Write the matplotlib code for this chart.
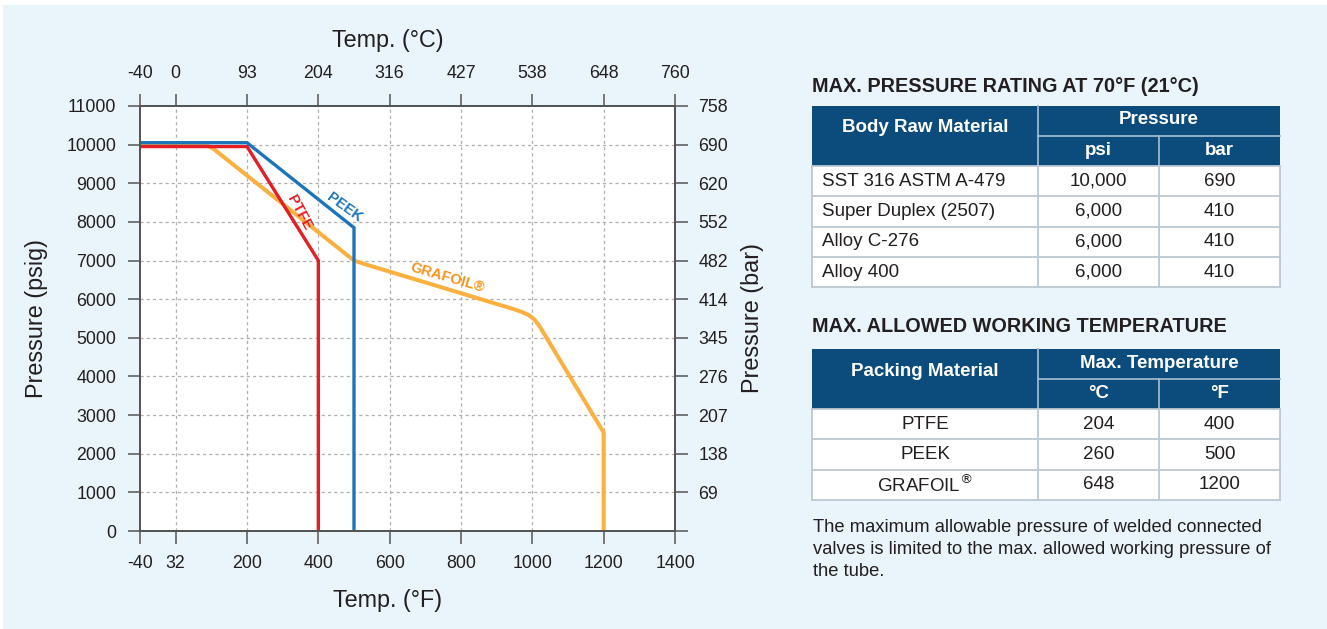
import numpy as np
import matplotlib
matplotlib.use('Agg')
import matplotlib.pyplot as plt
from matplotlib.patches import Rectangle
from matplotlib.lines import Line2D

W, H = 1327, 629
plt.rcParams['font.family'] = ['Liberation Sans', 'DejaVu Sans']

# ---------------- data ----------------
ptfe_f = [-40, 200, 400, 400]
ptfe_p = [9950, 9950, 7000, 0]
peek_f = [-40, 200, 500, 500]
peek_p = [10050, 10050, 7850, 0]
graf_f = [-40, 94, 108, 120, 160, 500, 540, 947, 970, 990, 1005, 1018, 1032, 1200, 1200]
graf_p = [10000, 10000, 9965, 9900, 9550, 7000, 6880, 5745, 5670, 5590, 5480, 5330, 5120, 2550, 0]

xticks_f = [-40, 32, 200, 400, 600, 800, 1000, 1200, 1400]
xlabels_c = ['-40', '0', '93', '204', '316', '427', '538', '648', '760']
yticks_psi = list(range(0, 11001, 1000))
ylabels_bar = ['', '69', '138', '207', '276', '345', '414', '482', '552', '620', '690', '758']

t1_cols = ['Body Raw Material', 'Pressure', 'psi', 'bar']
t1_rows = ['SST 316 ASTM A-479', 'Super Duplex (2507)', 'Alloy C-276', 'Alloy 400']
t1_psi = ['10,000', '6,000', '6,000', '6,000']
t1_bar = ['690', '410', '410', '410']

t2_cols = ['Packing Material', 'Max. Temperature', '°C', '°F']
t2_rows = ['PTFE', 'PEEK', 'GRAFOIL$^{\\circledR}$']
t2_c = ['204', '260', '648']
t2_f = ['400', '500', '1200']

note = ['The maximum allowable pressure of welded connected',
        'valves is limited to the max. allowed working pressure of',
        'the tube.']

# ---------------- style ----------------
RED = '#E31E25'
BLUE = '#1B75BB'
ORANGE = '#FBB040'
ORANGE_T = '#F7941D'
PANEL = '#E9F4FB'
DARK = '#0B4C7D'
TXT = '#231F20'
AXC = '#555555'

def fx(x):
    return x / W

def fy(y):
    return 1 - y / H

fig = plt.figure(figsize=(W / 100, H / 100), dpi=100, facecolor='white')
fig.add_artist(Rectangle((fx(3), 0), fx(W - 3), fy(5), transform=fig.transFigure,
                         facecolor=PANEL, edgecolor='none', zorder=-10))

# piecewise scale used by the original chart
xs_src = [-40, 32, 200, 1400]
xs_dst = [0, 0.5, 1.5, 7.5]

def fwd(x):
    return np.interp(x, xs_src, xs_dst)

def inv(x):
    return np.interp(x, xs_dst, xs_src)

ax = fig.add_axes([fx(140), fy(531), fx(675 - 140), (531 - 106) / H])
ax.set_facecolor('white')
ax.set_xscale('function', functions=(fwd, inv))
ax.set_xlim(-40, 1400)
ax.set_ylim(0, 11000)

ax.plot(ptfe_f, ptfe_p, color=RED, lw=2.4, solid_joinstyle='miter', zorder=3)
ax.plot(peek_f, peek_p, color=BLUE, lw=2.4, solid_joinstyle='miter', zorder=4)
ax.plot(graf_f, graf_p, color=ORANGE, lw=2.9, solid_joinstyle='round', zorder=2)

ax.text(346, 8230, 'PTFE', color=RED, fontsize=10.5, fontweight='bold', rotation=-62,
        ha='center', va='center', rotation_mode='anchor', zorder=5)
ax.text(472, 8385, 'PEEK', color=BLUE, fontsize=10.5, fontweight='bold', rotation=-36,
        ha='center', va='center', rotation_mode='anchor', zorder=5)
ax.text(763, 6573, 'GRAFOIL®', color=ORANGE_T, fontsize=10.5, fontweight='bold', rotation=-16,
        ha='center', va='center', rotation_mode='anchor', zorder=5)

ax.set_xticks(xticks_f)
ax.set_xticklabels([str(v) for v in xticks_f])
ax.set_yticks(yticks_psi)
ax.set_yticklabels([str(v) for v in yticks_psi])
ax.minorticks_off()
for v in xticks_f[1:-1]:
    ax.axvline(v, color='#AFAFAF', lw=0.9, ls=(0, (2.5, 2.5)), zorder=1)
for v in yticks_psi[1:-1]:
    ax.axhline(v, color='#AFAFAF', lw=0.9, ls=(0, (2.5, 2.5)), zorder=1)

tick_kw = dict(direction='out', length=9, width=1.1, color=AXC, labelcolor=TXT,
               labelsize=12.8, pad=8)
ax.tick_params(axis='both', **tick_kw)
for s in ax.spines.values():
    s.set_color(AXC)
    s.set_linewidth(1.3)

axt = ax.twiny()
axt.set_xscale('function', functions=(fwd, inv))
axt.set_xlim(-40, 1400)
axt.set_xticks(xticks_f)
axt.set_xticklabels(xlabels_c)
axt.minorticks_off()
axt.tick_params(axis='x', **tick_kw)

axr = ax.twinx()
axr.set_ylim(0, 11000)
axr.set_yticks(yticks_psi)
axr.set_yticklabels(ylabels_bar)
axr.tick_params(axis='y', **tick_kw)
for a in (axt, axr):
    for s in a.spines.values():
        s.set_color(AXC)
        s.set_linewidth(1.3)

fig.text(fx(388), fy(40), 'Temp. (°C)', fontsize=16.8, color=TXT, ha='center', va='center')
fig.text(fx(388), fy(600), 'Temp. (°F)', fontsize=16.8, color=TXT, ha='center', va='center')
fig.text(fx(37), fy(318), 'Pressure (psig)', fontsize=16.8, color=TXT, ha='center', va='center', rotation=90)
fig.text(fx(752), fy(318), 'Pressure (bar)', fontsize=16.8, color=TXT, ha='center', va='center', rotation=90)

# ---------------- tables ----------------
cx = [812, 1038, 1159, 1280]
BORDER = '#BCC8D2'
SEP = '#9FB7CB'

def rect(x0, y0, x1, y1, fc, ec='none', lw=0, z=2):
    fig.add_artist(Rectangle((fx(x0), fy(y1)), fx(x1 - x0), (y1 - y0) / H,
                             transform=fig.transFigure, facecolor=fc, edgecolor=ec,
                             linewidth=lw, zorder=z))

def line(x0, y0, x1, y1, c, lw):
    fig.add_artist(Line2D([fx(x0), fx(x1)], [fy(y0), fy(y1)], transform=fig.transFigure,
                          color=c, lw=lw, zorder=4))

def txt(x, y, s, ha='center', bold=False, color=TXT, size=13.5):
    fig.text(fx(x), fy(y), s, ha=ha, va='center', fontsize=size, color=color,
             fontweight='bold' if bold else 'normal')

def table(top, cols, rows, c2, c3, first_left):
    hmid = top + 30
    hbot = top + 60
    n = len(rows)
    rh = 30.3
    bot = hbot + rh * n
    rect(cx[0], hbot, cx[3], bot, 'white')
    rect(cx[0], top, cx[3], hbot, DARK)
    line(cx[1], top, cx[1], hbot, SEP, 1.3)
    line(cx[1], hmid, cx[3], hmid, SEP, 1.3)
    line(cx[2], hmid, cx[2], hbot, SEP, 1.3)
    for i in range(n + 1):
        yy = hbot + rh * i
        line(cx[0], yy, cx[3], yy, BORDER, 1.3)
    for xx in cx:
        line(xx, hbot, xx, bot, BORDER, 1.3)
    txt((cx[0] + cx[1]) / 2, top + 22, cols[0], bold=True, color='white', size=13.5)
    txt((cx[1] + cx[3]) / 2, top + 14, cols[1], bold=True, color='white', size=13.5)
    txt((cx[1] + cx[2]) / 2, top + 45, cols[2], bold=True, color='white', size=13.5)
    txt((cx[2] + cx[3]) / 2, top + 45, cols[3], bold=True, color='white', size=13.5)
    for i in range(n):
        yc = hbot + rh * i + rh / 2
        if first_left:
            txt(cx[0] + 10, yc, rows[i], ha='left')
        else:
            txt((cx[0] + cx[1]) / 2, yc, rows[i])
        txt((cx[1] + cx[2]) / 2, yc, c2[i])
        txt((cx[2] + cx[3]) / 2, yc, c3[i])

txt(812, 86, 'MAX. PRESSURE RATING AT 70°F (21°C)', ha='left', bold=True, size=14.3)
table(106, t1_cols, t1_rows, t1_psi, t1_bar, True)
txt(812, 326, 'MAX. ALLOWED WORKING TEMPERATURE', ha='left', bold=True, size=14.3)
table(349, t2_cols, t2_rows, t2_c, t2_f, False)

for i, s in enumerate(note):
    txt(813, 528 + 21.5 * i, s, ha='left', size=13.2)

fig.savefig('out.png', dpi=100, facecolor='white')
